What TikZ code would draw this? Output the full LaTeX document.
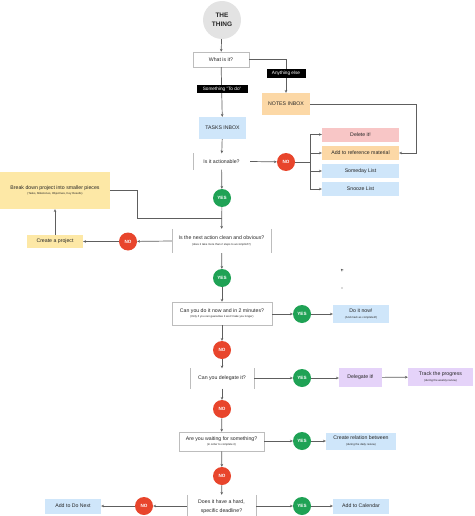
\documentclass[tikz,border=0pt]{standalone}
\usepackage{fontspec}
\setmainfont{Liberation Sans}
\usetikzlibrary{arrows.meta}
\definecolor{lnc}{HTML}{5E5E5E}
\definecolor{bdc}{HTML}{BDBDBD}
\definecolor{txt}{HTML}{262626}
\definecolor{yesg}{HTML}{1FA255}
\definecolor{nor}{HTML}{E8452C}
\definecolor{blu}{HTML}{CFE6FA}
\definecolor{org}{HTML}{FCD8A6}
\definecolor{yel}{HTML}{FDE8A6}
\definecolor{pnk}{HTML}{F8C6C6}
\definecolor{pur}{HTML}{E5D3F9}
\definecolor{gry}{HTML}{E3E3E3}
\newcommand{\subt}[1]{{\fontsize{2.8}{3.4}\selectfont #1}}
\begin{document}
\begin{tikzpicture}[x=1pt,y=-1pt,
  every node/.style={font=\fontsize{5.2}{6.4}\selectfont, text=txt, inner sep=0pt, align=center},
  fbox/.style={draw=bdc, line width=0.5pt, fill=white},
  yesc/.style={circle, fill=yesg, minimum size=18pt, text=white, font=\fontsize{4.6}{5}\selectfont\bfseries},
  noc/.style={circle, fill=nor, minimum size=18pt, text=white, font=\fontsize{4.6}{5}\selectfont\bfseries},
  tag/.style={fill=black, text=white, font=\fontsize{4.7}{5}\selectfont},
  ln/.style={draw=lnc, line width=0.7pt},
  ar/.style={draw=lnc, line width=0.7pt, -{Stealth[length=2.8pt,width=2.6pt]}},
  bar/.style={draw=bdc, line width=0.6pt}
]
\useasboundingbox (0,0) rectangle (474,516);

% nodes
\node[circle, fill=gry, minimum size=38pt, font=\fontsize{6.5}{9}\selectfont\bfseries] (thing) at (222,20) {THE\\THING};
\node[fbox, minimum width=56pt, minimum height=15pt] (what) at (221,59.5) {What is it?};
\node[fill=org, minimum width=48pt, minimum height=22pt] (notes) at (286,104) {NOTES INBOX};
\node[fill=blu, minimum width=47pt, minimum height=22pt] (tasks) at (222.5,128) {TASKS INBOX};
\node[minimum width=57pt, minimum height=16pt] (act) at (221.5,161.5) {Is it actionable?};
\node[noc] (no1) at (286,162) {NO};
\node[fill=pnk, minimum width=77pt, minimum height=14pt] (del) at (360.5,134.5) {Delete it!};
\node[fill=org, minimum width=77pt, minimum height=14pt] (ref) at (360.5,153) {Add to reference material};
\node[fill=blu, minimum width=77pt, minimum height=14pt] (some) at (360.5,171) {Someday List};
\node[fill=blu, minimum width=77pt, minimum height=14pt] (snooze) at (360.5,189) {Snooze List};
\node[yesc] (yes1) at (222,198) {YES};
\node[fill=yel, minimum width=110pt, minimum height=37pt] (break) at (55,190.5) {Break down project into smaller pieces\\[-0.6pt]\subt{(Tasks, Milestones, Objectives, Key Results)}};
\node[minimum width=99pt, minimum height=24pt] (next) at (221.5,241) {Is the next action clean and obvious?\\[-0.6pt]\subt{(does it take more than 2 steps to accomplish?)}};
\node[noc] (no2) at (128,241.5) {NO};
\node[fill=yel, minimum width=56pt, minimum height=13pt] (create) at (55,241.5) {Create a project};
\node[yesc] (yes2) at (222,278) {YES};
\node[fbox, minimum width=100pt, minimum height=23pt] (can) at (222,313.5) {Can you do it now and in 2 minutes?\\[-0.6pt]\subt{(Only if you can guarantee it won't take you longer)}};
\node[yesc] (yes3) at (302,314) {YES};
\node[fill=blu, minimum width=56pt, minimum height=18pt] (doit) at (361,314) {Do it now!\\[-0.6pt]\subt{(And mark as completed!)}};
\node[noc] (no3) at (222,350) {NO};
\node[minimum width=64pt, minimum height=20pt] (deleg) at (222,378.5) {Can you delegate it?};
\node[yesc] (yes4) at (302,378) {YES};
\node[fill=pur, minimum width=43pt, minimum height=19pt] (delegate) at (360.5,377.5) {Delegate it!};
\node[fill=pur, minimum width=65pt, minimum height=18pt] (track) at (440.5,377) {Track the progress\\[-0.6pt]\subt{(during the weekly review)}};
\node[noc] (no4) at (222,409) {NO};
\node[fbox, minimum width=85pt, minimum height=19pt] (wait) at (221.5,441.5) {Are you waiting for something?\\[-0.6pt]\subt{(in order to complete it)}};
\node[yesc] (yes5) at (302,441) {YES};
\node[fill=blu, minimum width=70pt, minimum height=17pt] (rel) at (361,441) {Create relation between\\[-0.6pt]\subt{(during the daily review)}};
\node[noc] (no5) at (222,476) {NO};
\node[minimum width=69pt, minimum height=24pt, font=\fontsize{5.2}{9.2}\selectfont] (dead) at (221.5,507) {Does it have a hard,\\specific deadline?};
\node[noc] (no6) at (144,506) {NO};
\node[fill=blu, minimum width=56pt, minimum height=15pt] (donext) at (73,506) {Add to Do Next};
\node[yesc] (yes6) at (302,506) {YES};
\node[fill=blu, minimum width=56pt, minimum height=15pt] (cal) at (361,506) {Add to Calendar};

% decision bars
\draw[bar] (act.north west) -- (act.south west);
\draw[bar] (next.north west) -- (next.south west);
\draw[bar] (next.north east) -- (next.south east);
\draw[bar] (deleg.north west) -- (deleg.south west);
\draw[bar] (deleg.north east) -- (deleg.south east);
\draw[bar] (dead.north west) -- (dead.south west);
\draw[bar] (dead.north east) -- (dead.south east);

% connectors
\draw[ar] (thing) -- (what);
\draw[ar] (what) -- (tasks);
\draw[ar] (what.east) -| (notes.north);
\node[tag, minimum width=51pt, minimum height=8.5pt] (todo) at (222,89) {Something "To do"};
\node[tag, minimum width=39pt, minimum height=9pt] (else) at (286,73.5) {Anything else};
\draw[ar] (notes.east) -- ++(106,0) |- (ref.east);
\draw[ar] (tasks) -- (act);
\draw[ar] (act.east) -- (no1);
\coordinate (br) at (310,162);
\draw[ln] (no1.east) -- (br);
\draw[ar] (br) |- (del.west);
\draw[ar] (br) |- (ref.west);
\draw[ar] (br) |- (some.west);
\draw[ar] (br) |- (snooze.west);
\draw[ar] (act) -- (yes1);
\coordinate (j) at (222,218);
\draw[ar] (yes1) -- (next);
\draw[ln] (break.east) -- (137,190.5) -- (137,218) -- (j);
\draw[ar] (next.west) -- (no2);
\draw[ar] (no2) -- (create);
\draw[ar] (create) -- (break);
\draw[ar] (next) -- (yes2);
\draw[ar] (yes2) -- (can);
\draw[ar] (can.east |- yes3) -- (yes3);
\draw[ar] (yes3) -- (doit);
\draw[ar] (can) -- (no3);
\draw[ar] (no3) -- (deleg);
\draw[ar] (deleg.east |- yes4) -- (yes4);
\draw[ar] (yes4) -- (delegate.west |- yes4);
\draw[ar] (delegate) -- (track);
\draw[ar] (deleg) -- (no4);
\draw[ar] (no4) -- (wait);
\draw[ar] (wait.east |- yes5) -- (yes5);
\draw[ar] (yes5) -- (rel);
\draw[ar] (wait) -- (no5);
\draw[ar] (no5) -- (dead);
\draw[ar] (dead.west |- no6) -- (no6);
\draw[ar] (no6) -- (donext);
\draw[ar] (dead.east |- yes6) -- (yes6);
\draw[ar] (yes6) -- (cal);

% stray marks
\coordinate (m1) at (341,269);
\draw[ar] (m1) -- ++(-0.1,-0.1);
\fill[lnc] (342,288) circle (0.6pt);
\end{tikzpicture}
\end{document}
